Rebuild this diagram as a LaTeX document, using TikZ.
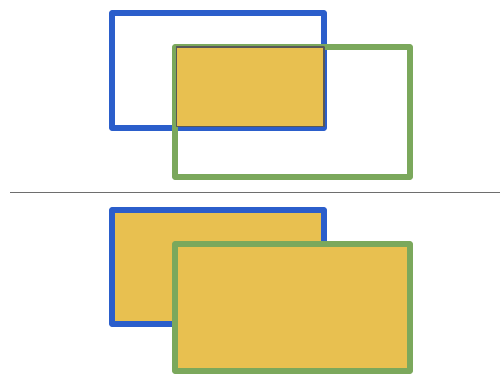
\documentclass[tikz,border=0pt]{standalone}
\usepackage{xcolor}
\definecolor{cBlue}{RGB}{43,94,203}
\definecolor{cGreen}{RGB}{123,168,92}
\definecolor{cFill}{RGB}{232,192,80}
\definecolor{cRule}{RGB}{110,110,110}

\begin{document}
\begin{tikzpicture}[x=0.02cm, y=-0.02cm, line join=round]

% ------------------- styles -------------------
\tikzstyle{bluebox} = [draw=cBlue, line width=0.12cm]
\tikzstyle{greenbox} = [draw=cGreen, line width=0.12cm]
\tikzstyle{overlap} = [fill=cFill, draw=cRule!80!black, line width=0.6pt]
\tikzstyle{divider} = [draw=cRule, line width=0.8pt]

\useasboundingbox (0,0) rectangle (500,375);

% ------------------- top: only the overlap is filled -------------------
\coordinate (topBlueA) at (112,13);
\coordinate (topBlueB) at (324,128);
\coordinate (topGreenA) at (175,47);
\coordinate (topGreenB) at (410,177);

\draw[bluebox] (topBlueA) rectangle (topBlueB);
\draw[greenbox] (topGreenA) rectangle (topGreenB);
\draw[overlap] ([xshift=1]topGreenA) rectangle ([yshift=1]topBlueB);

% ------------------- divider -------------------
\coordinate (ruleL) at (10,192.5);
\coordinate (ruleR) at (500,192.5);
\draw[divider] (ruleL) -- (ruleR);

% ------------------- bottom: both boxes filled, green on top -------------------
\coordinate (botBlueA) at (112,210);
\coordinate (botBlueB) at (324,324);
\coordinate (botGreenA) at (175,244);
\coordinate (botGreenB) at (410,371);

\draw[bluebox, fill=cFill] (botBlueA) rectangle (botBlueB);
\draw[greenbox, fill=cFill] (botGreenA) rectangle (botGreenB);

\end{tikzpicture}
\end{document}
